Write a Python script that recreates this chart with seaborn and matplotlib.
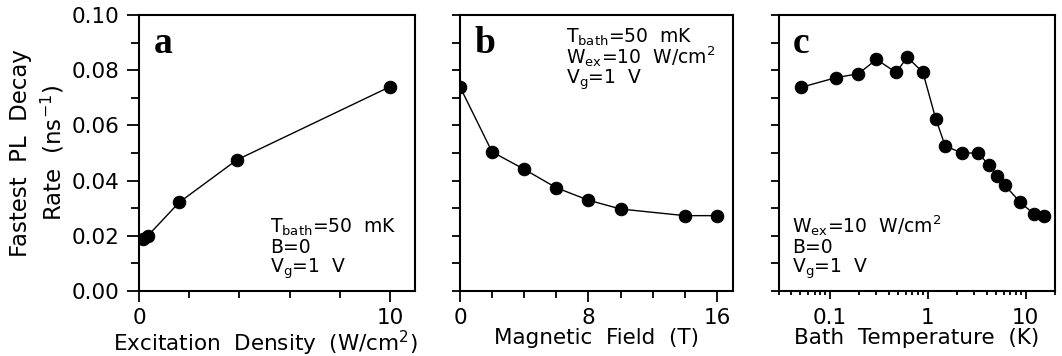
import matplotlib
matplotlib.use("Agg")
import matplotlib.pyplot as plt
import matplotlib.ticker as mticker
import seaborn as sns
import pandas as pd
import numpy as np

# ---- data ----
exc_density = [0.15, 0.35, 1.6, 3.9, 10.0]
rate_a = [0.0190, 0.0200, 0.0321, 0.0475, 0.0740]

mag_field = [0, 2, 4, 6, 8, 10, 14, 16]
rate_b = [0.0740, 0.0504, 0.0441, 0.0374, 0.0329, 0.0297, 0.0273, 0.0273]

bath_temp = [0.051, 0.116, 0.196, 0.30, 0.476, 0.62, 0.895, 1.21, 1.51,
             2.23, 3.26, 4.28, 5.1, 6.1, 8.78, 12.2, 15.5]
rate_c = [0.0738, 0.0773, 0.0787, 0.0839, 0.0792, 0.0847, 0.0792, 0.0624,
          0.0526, 0.0500, 0.0500, 0.0455, 0.0418, 0.0385, 0.0322, 0.0279, 0.0271]

panel_letters = ["a", "b", "c"]
xlabels = ["Excitation  Density  (W/cm$^2$)", "Magnetic  Field  (T)",
           "Bath  Temperature  (K)"]
ylabel = "Fastest  PL  Decay\nRate  (ns$^{-1}$)"
notes_a = ["T$_{bath}$=50  mK", "B=0", "V$_g$=1  V"]
notes_b = ["T$_{bath}$=50  mK", "W$_{ex}$=10  W/cm$^2$", "V$_g$=1  V"]
notes_c = ["W$_{ex}$=10  W/cm$^2$", "B=0", "V$_g$=1  V"]

sns.set_style("ticks", {"axes.edgecolor": "black", "xtick.color": "black",
                        "ytick.color": "black", "text.color": "black",
                        "axes.labelcolor": "black"})
plt.rcParams['font.family'] = ['DejaVu Sans']
plt.rcParams['mathtext.default'] = 'regular'

fig = plt.figure(figsize=(10.62, 3.56), dpi=100)
bottom, height = 0.1826, 0.7753
ax_a = fig.add_axes([0.1309, bottom, 0.2599, height])
ax_b = fig.add_axes([0.4331, bottom, 0.2571, height])
ax_c = fig.add_axes([0.7331, bottom, 0.2603, height])

dfs = [pd.DataFrame({"x": exc_density, "y": rate_a}),
       pd.DataFrame({"x": mag_field, "y": rate_b}),
       pd.DataFrame({"x": bath_temp, "y": rate_c})]

for ax, df in zip([ax_a, ax_b, ax_c], dfs):
    sns.lineplot(data=df, x="x", y="y", ax=ax, color="black", lw=1.0,
                 marker="o", markersize=9, markeredgecolor="black",
                 markerfacecolor="black", sort=False)
    ax.set_ylim(0, 0.10)
    ax.yaxis.set_major_locator(mticker.MultipleLocator(0.02))
    ax.yaxis.set_minor_locator(mticker.MultipleLocator(0.01))
    for sp in ax.spines.values():
        sp.set_linewidth(1.5)
        sp.set_visible(True)
        sp.set_color("black")
    ax.tick_params(which="major", direction="out", length=8, width=1.3,
                   labelsize=15.5, pad=4.5, colors="black")
    ax.tick_params(which="minor", direction="out", length=5, width=1.3,
                   colors="black")
    ax.tick_params(axis="y", which="minor", length=6)
    ax.tick_params(axis="y", which="major", length=6)
    ax.set_ylabel("")

# panel a
ax_a.set_xlim(0, 11)
ax_a.xaxis.set_major_locator(mticker.FixedLocator([0, 10]))
ax_a.xaxis.set_minor_locator(mticker.FixedLocator([2, 4, 6, 8]))
ax_a.yaxis.set_major_formatter(mticker.FormatStrFormatter("%.2f"))
ax_a.tick_params(axis="y", which="major", length=8.5, pad=5.5)
ax_a.set_ylabel(ylabel, fontsize=16.5, linespacing=1.3, labelpad=4)

# panel b
ax_b.set_xlim(0, 17)
ax_b.xaxis.set_major_locator(mticker.FixedLocator([0, 8, 16]))
ax_b.xaxis.set_minor_locator(mticker.FixedLocator([2, 4, 6, 10, 12, 14]))
ax_b.set_yticklabels([])

# panel c
ax_c.set_xscale("log")
ax_c.set_xlim(0.03, 20)
ax_c.xaxis.set_major_locator(mticker.FixedLocator([0.1, 1, 10]))
ax_c.xaxis.set_major_formatter(mticker.FixedFormatter(["0.1", "1", "10"]))
ax_c.xaxis.set_minor_locator(mticker.LogLocator(base=10, subs=np.arange(2, 10)))
ax_c.xaxis.set_minor_formatter(mticker.NullFormatter())
ax_c.tick_params(axis="x", which="major", length=5.5, pad=6.5)
ax_c.tick_params(axis="x", which="minor", length=3)
ax_c.set_yticklabels([])

label_x = [0.456, 0.5, 0.5]
for ax, lab, lx in zip([ax_a, ax_b, ax_c], xlabels, label_x):
    ax.set_xlabel(lab, fontsize=15.5, labelpad=0, x=lx)

# letters
for ax, letter in zip([ax_a, ax_b, ax_c], panel_letters):
    ax.text(0.053, 0.863, letter, transform=ax.transAxes, fontsize=27,
            fontweight="bold", family="Liberation Serif", va="baseline", ha="left")

def notes(ax, lines, x, ys):
    for t, y in zip(lines, ys):
        ax.text(x, y, t, transform=ax.transAxes, fontsize=13.5, va="baseline",
                ha="left")

notes(ax_a, notes_a, 0.474, [0.210, 0.138, 0.065])
notes(ax_b, notes_b, 0.387, [0.899, 0.824, 0.750])
notes(ax_c, notes_c, 0.050, [0.210, 0.138, 0.065])

fig.savefig("out.png", dpi=100)
